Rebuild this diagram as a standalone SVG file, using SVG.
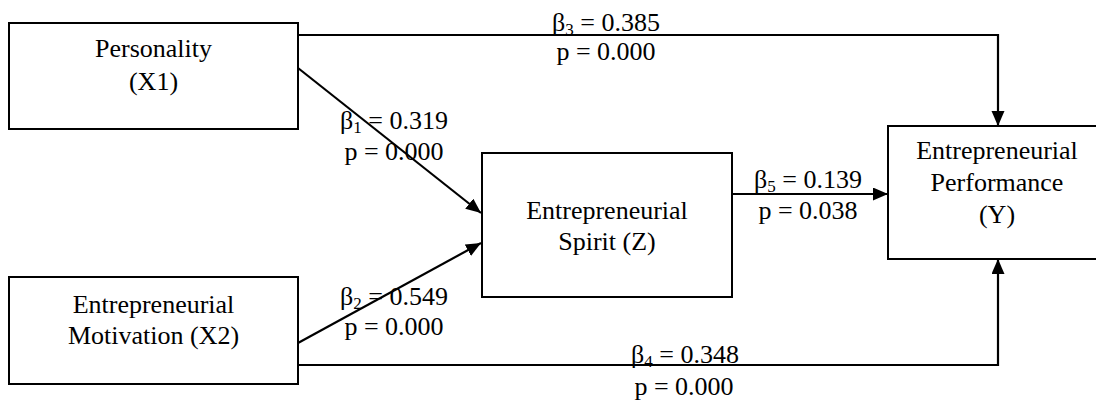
<svg xmlns="http://www.w3.org/2000/svg" width="1096" height="401" viewBox="0 0 1096 401">
<style>
.box{fill:#fff;stroke:#000;stroke-width:2}
.t{font-family:"Liberation Serif","Times New Roman",serif;font-size:26px;fill:#000;text-anchor:middle}
.c{fill:none;stroke:#000;stroke-width:2.2}
.s{font-size:17px}
</style>
<defs>
<marker id="ah" markerUnits="userSpaceOnUse" markerWidth="16" markerHeight="14" refX="15" refY="6.5" orient="auto">
<path d="M0,0 L15,6.5 L0,13 z" fill="#000"/>
</marker>
</defs>
<rect width="1096" height="401" fill="#fff"/>
<g id="x1">
<rect class="box" x="9" y="23" width="289" height="106"/>
<text class="t" x="153.5" y="57">Personality</text>
<text class="t" x="153.5" y="90">(X1)</text>
</g>
<g id="x2">
<rect class="box" x="9" y="277" width="289" height="107"/>
<text class="t" x="153.5" y="313">Entrepreneurial</text>
<text class="t" x="153.5" y="344">Motivation (X2)</text>
</g>
<g id="z">
<rect class="box" x="482" y="153" width="250" height="144"/>
<text class="t" x="607" y="219">Entrepreneurial</text>
<text class="t" x="607" y="250">Spirit (Z)</text>
</g>
<g id="y">
<rect class="box" x="888" y="126" width="220" height="133"/>
<text class="t" x="997" y="159">Entrepreneurial</text>
<text class="t" x="997" y="191">Performance</text>
<text class="t" x="997" y="223">(Y)</text>
</g>
<g id="connectors">
<path class="c" d="M298,35 H998 V126" marker-end="url(#ah)"/>
<path class="c" d="M298,68 L481,213" marker-end="url(#ah)"/>
<path class="c" d="M298,343 L481,243" marker-end="url(#ah)"/>
<path class="c" d="M732,194 H888" marker-end="url(#ah)"/>
<path class="c" d="M298,365 H998 V259" marker-end="url(#ah)"/>
</g>
<g id="labels">
<text class="t" x="606" y="31">β<tspan class="s" dy="4">3</tspan><tspan dy="-4"> = 0.385</tspan></text>
<text class="t" x="606" y="60">p = 0.000</text>
<text class="t" x="394" y="129">β<tspan class="s" dy="4">1</tspan><tspan dy="-4"> = 0.319</tspan></text>
<text class="t" x="394" y="160">p = 0.000</text>
<text class="t" x="394" y="305">β<tspan class="s" dy="4">2</tspan><tspan dy="-4"> = 0.549</tspan></text>
<text class="t" x="394" y="335">p = 0.000</text>
<text class="t" x="808" y="188">β<tspan class="s" dy="4">5</tspan><tspan dy="-4"> = 0.139</tspan></text>
<text class="t" x="808" y="219">p = 0.038</text>
<text class="t" x="685" y="363">β<tspan class="s" dy="4">4</tspan><tspan dy="-4"> = 0.348</tspan></text>
<text class="t" x="684" y="395">p = 0.000</text>
</g>
</svg>
